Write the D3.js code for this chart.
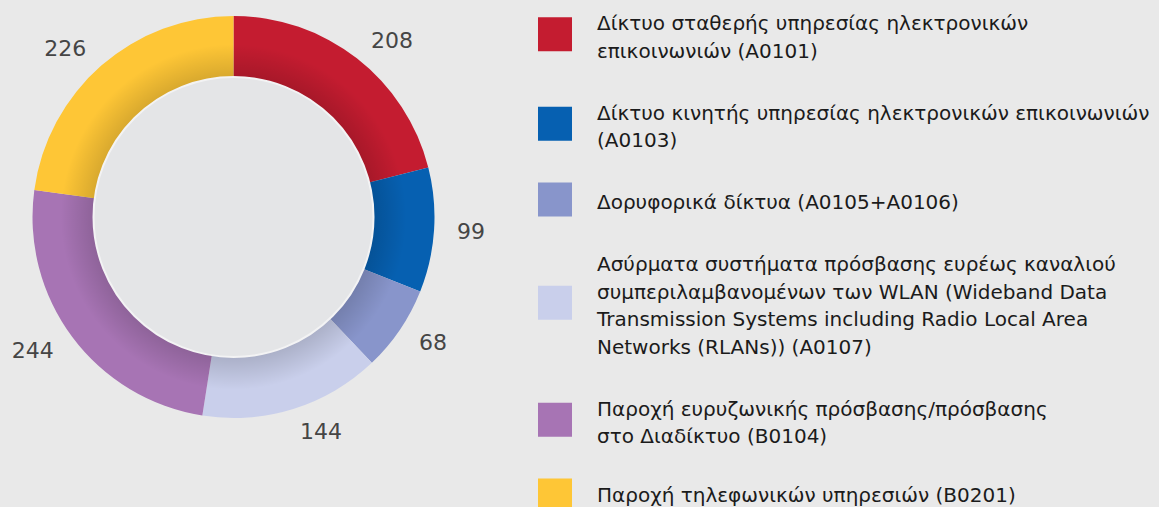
<!DOCTYPE html>
<html>
<head>
<meta charset="utf-8">
<script src="https://cdn.jsdelivr.net/npm/d3@7"></script>
<style>
  html, body { margin: 0; padding: 0; background: #e9e9e9; }
  svg { display: block; }
</style>
</head>
<body>
<svg id="chart"></svg>
<script>
var svg_width = 1159, svg_height = 507;

// data
var categories = ["A0101", "A0103", "A0105+A0106", "A0107", "B0104", "B0201"];
var values = [208, 99, 68, 144, 244, 226];
var colors = ["#c41c30", "#0660b1", "#8895cb", "#c9cfeb", "#a774b4", "#fec636"];
var legendLines = [
	["Δίκτυο σταθερής υπηρεσίας ηλεκτρονικών", "επικοινωνιών (A0101)"],
	["Δίκτυο κινητής υπηρεσίας ηλεκτρονικών επικοινωνιών", "(A0103)"],
	["Δορυφορικά δίκτυα (A0105+A0106)"],
	["Ασύρματα συστήματα πρόσβασης ευρέως καναλιού", "συμπεριλαμβανομένων των WLAN (Wideband Data", "Transmission Systems including Radio Local Area", "Networks (RLANs)) (A0107)"],
	["Παροχή ευρυζωνικής πρόσβασης/πρόσβασης", "στο Διαδίκτυο (B0104)"],
	["Παροχή τηλεφωνικών υπηρεσιών (B0201)"]
];

var cx = 233.5, cy = 217;
var outerR = 201, innerR = 140, labelR = 224;
var font = "'DejaVu Sans', sans-serif";

var svg = d3.select("#chart")
	.attr("width", svg_width)
	.attr("height", svg_height);

var defs = svg.append("defs");
var shade = defs.append("radialGradient")
	.attr("id", "shade")
	.attr("gradientUnits", "userSpaceOnUse")
	.attr("cx", 0).attr("cy", 0).attr("r", outerR);
shade.append("stop").attr("offset", innerR / outerR).attr("stop-color", "#000").attr("stop-opacity", 0.15);
shade.append("stop").attr("offset", 0.86).attr("stop-color", "#000").attr("stop-opacity", 0);

var pie = d3.pie().sort(null).value(function (d) { return d; });
var arcs = pie(values);

var arc = d3.arc().innerRadius(innerR).outerRadius(outerR);

var g = svg.append("g")
	.attr("transform", "translate(" + cx + "," + cy + ")");

g.selectAll("path.slice")
	.data(arcs)
	.enter().append("path")
	.attr("class", "slice")
	.attr("fill", function (d, i) { return colors[i]; })
	.attr("d", arc);

// soft inner shadow on the ring
g.append("path")
	.attr("d", d3.arc().innerRadius(innerR).outerRadius(outerR).startAngle(0).endAngle(2 * Math.PI)())
	.attr("fill", "url(#shade)");

// inner disc
g.append("circle")
	.attr("r", innerR)
	.attr("fill", "#e4e5e7")
	.attr("stroke", "#f3f3f4")
	.attr("stroke-width", 2);

// value labels
function mid(d) { return (d.startAngle + d.endAngle) / 2; }

g.selectAll("text.value")
	.data(arcs)
	.enter().append("text")
	.attr("class", "value")
	.attr("x", function (d) { return labelR * Math.sin(mid(d)); })
	.attr("y", function (d) { return -labelR * Math.cos(mid(d)); })
	.attr("dy", "0.35em")
	.attr("text-anchor", function (d) { return mid(d) > Math.PI ? "end" : "start"; })
	.attr("font-family", font)
	.attr("font-size", 22)
	.attr("fill", "#454545")
	.text(function (d) { return d.data; });

// legend
var lineH = 27.5, itemGap = 62, firstBase = 30;
var legend = svg.append("g").attr("class", "legend");
var base = firstBase;
legendLines.forEach(function (lines, i) {
	var item = legend.append("g");
	var textMid = base + (lines.length - 1) * lineH / 2 - 7;
	item.append("rect")
		.attr("x", 538)
		.attr("y", textMid - 2.5 - 17)
		.attr("width", 34)
		.attr("height", 34)
		.attr("fill", colors[i]);
	var t = item.append("text")
		.attr("font-family", font)
		.attr("font-size", 20)
		.attr("fill", "#1b1b1b");
	lines.forEach(function (ln, j) {
		t.append("tspan")
			.attr("x", 597)
			.attr("y", Math.min(base + j * lineH, 502))
			.text(ln);
	});
	base = base + (lines.length - 1) * lineH + itemGap;
});
</script>
</body>
</html>
